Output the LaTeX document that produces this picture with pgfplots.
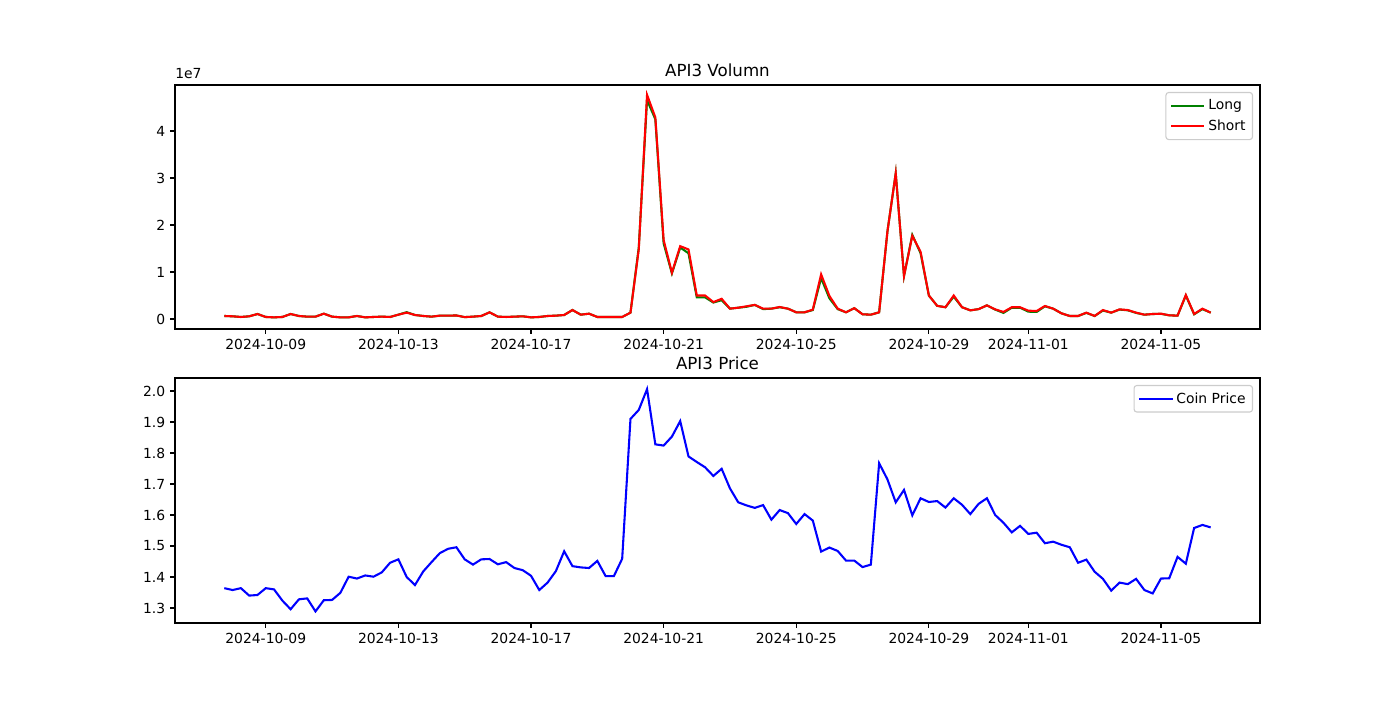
\documentclass[border=0pt]{standalone}
\usepackage{fontspec}
\setmainfont{DejaVu Sans}
\usepackage{pgfplots}
\pgfplotsset{compat=1.18}
\usepackage{pgfplotstable}
\definecolor{mplgreen}{RGB}{0,128,0}
\definecolor{mplred}{RGB}{255,0,0}
\definecolor{mplblue}{RGB}{0,0,255}
\definecolor{legframe}{RGB}{204,204,204}

% x = days since 2024-10-09 00:00 ; long/short in millions
\pgfplotstableread{
x long short price
-1.25 0.64 0.64 1.364
-1.00 0.57 0.57 1.358
-0.75 0.43 0.43 1.364
-0.50 0.57 0.57 1.340
-0.25 1.06 1.06 1.342
0.00 0.43 0.43 1.364
0.25 0.35 0.35 1.360
0.50 0.43 0.43 1.324
0.75 1.06 1.06 1.296
1.00 0.64 0.64 1.328
1.25 0.50 0.50 1.331
1.50 0.50 0.50 1.289
1.75 1.13 1.13 1.325
2.00 0.50 0.50 1.326
2.25 0.35 0.35 1.349
2.50 0.35 0.35 1.401
2.75 0.64 0.64 1.395
3.00 0.35 0.35 1.405
3.25 0.43 0.43 1.401
3.50 0.50 0.50 1.415
3.75 0.43 0.43 1.446
4.00 0.92 0.92 1.457
4.25 1.45 1.35 1.400
4.50 0.85 0.85 1.374
4.75 0.64 0.64 1.418
5.00 0.50 0.50 1.448
5.25 0.71 0.71 1.477
5.50 0.71 0.71 1.491
5.75 0.75 0.75 1.496
6.00 0.40 0.40 1.457
6.25 0.50 0.50 1.440
6.50 0.64 0.64 1.457
6.75 1.42 1.42 1.458
7.00 0.50 0.50 1.441
7.25 0.43 0.43 1.448
7.50 0.50 0.50 1.429
7.75 0.57 0.57 1.422
8.00 0.35 0.35 1.404
8.25 0.43 0.43 1.358
8.50 0.64 0.64 1.382
8.75 0.71 0.71 1.419
9.00 0.85 0.85 1.483
9.25 1.91 1.91 1.435
9.50 0.92 0.92 1.431
9.75 1.13 1.13 1.429
10.00 0.43 0.43 1.452
10.25 0.43 0.43 1.403
10.50 0.43 0.43 1.403
10.75 0.43 0.43 1.459
11.00 1.35 1.35 1.910
11.25 15.2 14.8 1.939
11.50 46.6 47.7 2.006
11.75 42.5 42.9 1.828
12.00 16.1 16.8 1.824
12.25 9.7 9.86 1.853
12.50 15.2 15.5 1.903
12.75 14.0 14.8 1.789
13.00 4.6 5.0 1.771
13.25 4.6 5.0 1.754
13.50 3.5 3.6 1.726
13.75 4.0 4.3 1.749
14.00 2.2 2.2 1.686
14.25 2.4 2.4 1.641
14.50 2.6 2.7 1.631
14.75 3.0 3.0 1.623
15.00 2.1 2.2 1.632
15.25 2.2 2.2 1.585
15.50 2.5 2.55 1.616
15.75 2.2 2.2 1.606
16.00 1.42 1.42 1.571
16.25 1.42 1.42 1.603
16.50 1.9 2.0 1.582
16.75 8.7 9.5 1.482
17.00 4.4 4.9 1.495
17.25 2.1 2.2 1.484
17.50 1.42 1.42 1.453
17.75 2.3 2.3 1.453
18.00 1.0 1.0 1.432
18.25 0.92 0.92 1.440
18.50 1.42 1.42 1.767
18.75 18.6 18.6 1.715
19.00 31.0 31.0 1.641
19.25 9.15 9.15 1.681
19.50 17.9 17.7 1.599
19.75 14.0 14.3 1.654
20.00 5.0 5.0 1.642
20.25 2.8 2.8 1.645
20.50 2.5 2.5 1.624
20.75 4.75 5.0 1.654
21.00 2.5 2.5 1.633
21.25 1.84 1.84 1.603
21.50 2.1 2.1 1.636
21.75 2.9 2.9 1.654
22.00 2.0 2.05 1.600
22.25 1.3 1.5 1.575
22.50 2.4 2.5 1.544
22.75 2.4 2.5 1.565
23.00 1.56 1.77 1.539
23.25 1.5 1.7 1.543
23.50 2.7 2.77 1.509
23.75 2.2 2.2 1.514
24.00 1.2 1.2 1.504
24.25 0.64 0.64 1.496
24.50 0.64 0.64 1.446
24.75 1.3 1.35 1.456
25.00 0.64 0.64 1.417
25.25 1.8 1.9 1.394
25.50 1.35 1.35 1.356
25.75 2.0 2.05 1.382
26.00 1.85 1.9 1.377
26.25 1.3 1.35 1.394
26.50 0.92 0.92 1.358
26.75 1.06 1.06 1.347
27.00 1.1 1.13 1.395
27.25 0.78 0.78 1.396
27.50 0.71 0.71 1.465
27.75 5.0 5.1 1.443
28.00 1.0 1.06 1.558
28.25 2.1 2.2 1.568
28.50 1.35 1.35 1.560
}\datatable

\pgfplotsset{
  mplaxis/.style={
    scale only axis,
    width=781.2pt,
    xmin=-2.7375, xmax=29.9875,
    axis line style={line width=0.8pt},
    every tick/.style={black, line width=0.8pt},
    tick align=outside,
    tick pos=left,
    major tick length=3.5pt,
    xtick={0,4,8,12,16,20,23,27},
    xticklabels={2024-10-09,2024-10-13,2024-10-17,2024-10-21,2024-10-25,2024-10-29,2024-11-01,2024-11-05},
    ticklabel style={font=\fontsize{10}{12}\selectfont},
    /pgf/number format/assume math mode=true,
    title style={at={(0.5,1)}, anchor=base, yshift=0pt, inner sep=0pt, font=\fontsize{12}{14}\selectfont},
    legend cell align=left,
    legend image code/.code={\draw[#1] (0pt,0pt) -- (20pt,0pt); \path (20pt,0pt) -- (24pt,0pt);},
    legend style={at={(1,1)}, anchor=north east, xshift=-5pt, yshift=-5pt,
      draw=legframe, line width=0.8pt, rounded corners=2pt, fill=white, fill opacity=0.8, text opacity=1,
      font=\fontsize{10}{12}\selectfont, row sep=2pt, inner xsep=3pt, inner ysep=3pt},
  }
}

\begin{document}
\begin{tikzpicture}
\path[use as bounding box] (0,0) rectangle (1008pt,504pt);

\begin{axis}[mplaxis,
  at={(126pt,267.12pt)}, anchor=south west,
  height=175.68pt,
  ymin=-0.213, ymax=4.98,
  ytick={0,1,2,3,4},
  title={API3 Volumn},
  after end axis/.code={
    \node[anchor=south west, inner sep=0pt, font=\fontsize{10}{12}\selectfont] at ([yshift=4pt]rel axis cs:0,1) {1e7};
  },
]
\addplot[mplgreen, line width=1.5pt] table[x=x, y expr=\thisrow{long}/10] {\datatable};
\addlegendentry{Long}
\addplot[mplred, line width=1.5pt] table[x=x, y expr=\thisrow{short}/10] {\datatable};
\addlegendentry{Short}
\end{axis}

\begin{axis}[mplaxis,
  at={(126pt,55.44pt)}, anchor=south west,
  height=176.4pt,
  ymin=1.2516, ymax=2.042,
  ytick={1.3,1.4,1.5,1.6,1.7,1.8,1.9,2.0},
  yticklabels={1.3,1.4,1.5,1.6,1.7,1.8,1.9,2.0},
  title={API3 Price},
]
\addplot[mplblue, line width=1.5pt] table[x=x, y=price] {\datatable};
\addlegendentry{Coin Price}
\end{axis}
\end{tikzpicture}
\end{document}
